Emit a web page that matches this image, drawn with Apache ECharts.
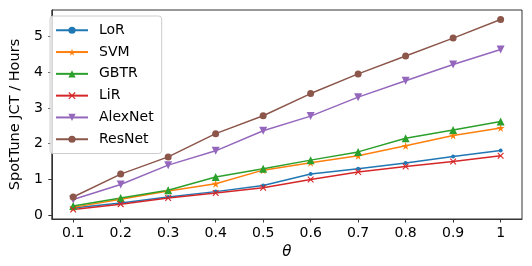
<!DOCTYPE html>
<html><head><meta charset="utf-8">
<script src="https://cdn.jsdelivr.net/npm/echarts@6/dist/echarts.min.js"></script>
<style>html,body{margin:0;padding:0;background:#fff}#c{width:532px;height:266px}</style>
</head><body><div id="c"></div>
<script>
const theta = [0.1,0.2,0.3,0.4,0.5,0.6,0.7,0.8,0.9,1.0];
const xTicks = [0.1,0.2,0.3,0.4,0.5,0.6,0.7,0.8,0.9,1.0];
const yTicks = [0,1,2,3,4,5];
const LoR     = [0.20,0.34,0.51,0.66,0.83,1.15,1.30,1.46,1.64,1.81];
const SVM     = [0.22,0.45,0.68,0.88,1.26,1.47,1.66,1.94,2.23,2.44];
const GBTR    = [0.26,0.48,0.70,1.07,1.30,1.54,1.77,2.15,2.38,2.62];
const LiR     = [0.16,0.31,0.48,0.62,0.77,1.00,1.21,1.36,1.50,1.66];
const AlexNet = [0.44,0.86,1.40,1.80,2.36,2.77,3.30,3.76,4.21,4.63];
const ResNet  = [0.51,1.15,1.63,2.28,2.78,3.40,3.95,4.45,4.95,5.47];

const STAR = 'path://M50,0 L61,35 L98,35 L68,57 L79,91 L50,70 L21,91 L32,57 L2,35 L39,35 Z';
const XMK = 'path://M0,12 L12,0 L50,38 L88,0 L100,12 L62,50 L100,88 L88,100 L50,62 L12,100 L0,88 L38,50 Z';
const DOWN = 'path://M0,0 L100,0 L50,90 Z';
const UP = 'path://M50,0 L100,90 L0,90 Z';

const defs = [
  ['LoR', LoR, '#1f77b4', 'circle', 4],
  ['SVM', SVM, '#ff7f0e', STAR, 8],
  ['GBTR', GBTR, '#2ca02c', UP, 8],
  ['LiR', LiR, '#d62728', XMK, 6.5],
  ['AlexNet', AlexNet, '#9467bd', DOWN, 8],
  ['ResNet', ResNet, '#8c564b', 'circle', 7]
];
const F = 'DejaVu Sans';
const chart = echarts.init(document.getElementById('c'), null, {renderer:'canvas'});
chart.setOption({
  animation:false,
  grid:{left:43,right:10,top:10,bottom:47,show:true,borderColor:'#333',borderWidth:1,backgroundColor:'transparent'},
  legend:{
    orient:'vertical', left:50, top:16,
    data: defs.map(d=>({name:d[0], itemStyle:{}})),
    itemWidth:32, itemHeight:9, itemGap:5.3,
    padding:[6,8,6,5],
    borderColor:'#ccc', borderWidth:1, borderRadius:3,
    backgroundColor:'rgba(255,255,255,0.8)',
    textStyle:{fontFamily:F, fontSize:14, color:'#000', padding:[0,0,0,6], lineHeight:16.5}
  },
  xAxis:{
    type:'value', min:0.055, max:1.045,
    name:'θ', nameLocation:'middle', nameGap:19,
    nameTextStyle:{fontFamily:F, fontSize:15, fontStyle:'italic', color:'#000'},
    axisLine:{show:true, onZero:false, lineStyle:{color:'#333', width:1}},
    axisTick:{show:true, inside:false, length:3.5, lineStyle:{color:'#333'}, customValues:xTicks},
    axisLabel:{fontFamily:F, fontSize:14, color:'#000', margin:7, customValues:xTicks,
      formatter:v=> (Math.abs(v-1)<1e-9 ? '1' : v.toFixed(1))},
    splitLine:{show:false}
  },
  yAxis:{
    type:'value', min:-0.105, max:5.735,
    name:'SpotTune JCT / Hours', nameLocation:'middle', nameGap:21,
    nameTextStyle:{fontFamily:F, fontSize:14.5, color:'#000'},
    axisLine:{show:true, onZero:false, lineStyle:{color:'#333', width:1}},
    axisTick:{show:true, inside:false, length:3.5, lineStyle:{color:'#333'}, customValues:yTicks},
    axisLabel:{fontFamily:F, fontSize:14, color:'#000', margin:9, customValues:yTicks,
      formatter:v=>String(Math.round(v))},
    splitLine:{show:false}
  },
  series: defs.map(d=>({
    name:d[0], type:'line',
    data: theta.map((t,i)=>[t, d[1][i]]),
    symbol:d[3], symbolSize:d[4], showAllSymbol:true,
    lineStyle:{color:d[2], width:1.5},
    itemStyle:{color:d[2], borderWidth:0},
    emphasis:{disabled:true}
  }))
});
</script></body></html>
